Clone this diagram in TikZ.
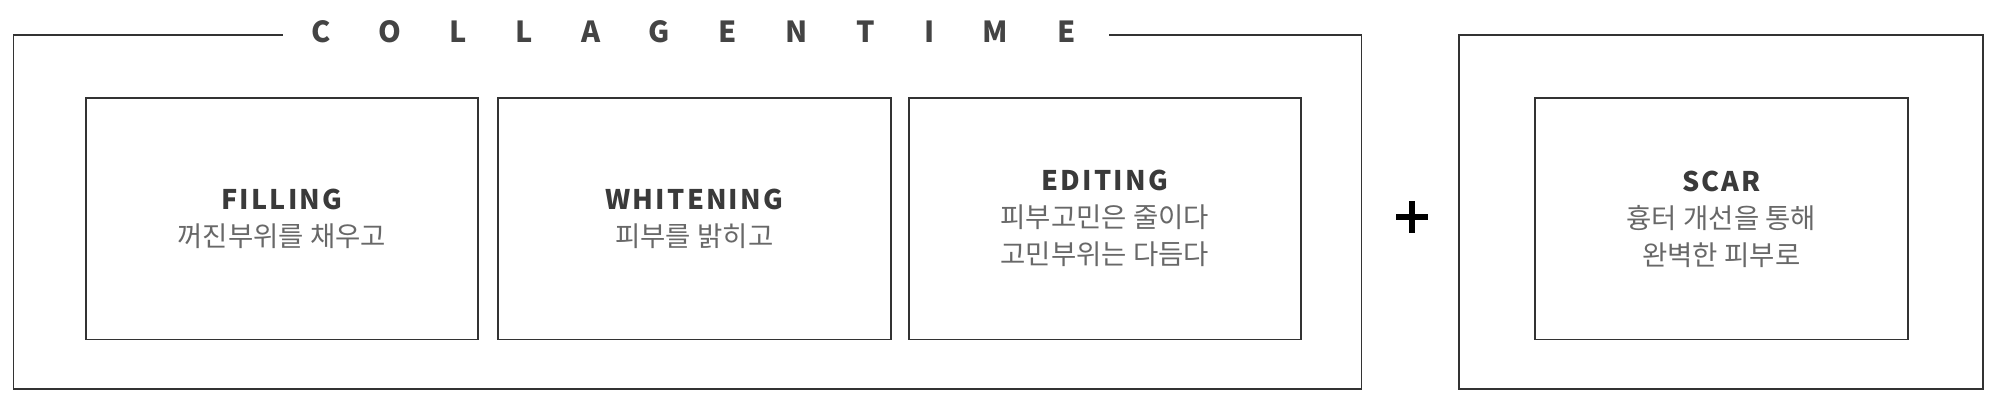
\documentclass[tikz,border=0pt]{standalone}
\usepackage{fontspec}
\setmainfont{Noto Sans CJK KR}
\definecolor{linec}{HTML}{333333}
\definecolor{titlec}{HTML}{3A3A3A}
\definecolor{bodyc}{HTML}{686868}
\definecolor{headc}{HTML}{444444}
\newcommand{\paneltitle}[1]{{\fontsize{27}{37}\selectfont\bfseries\addfontfeature{LetterSpace=8}\color{titlec}#1}}
\begin{document}
\begin{tikzpicture}[x=1pt,y=-1pt,
  frame/.style={draw=linec, line width=1.7pt},
  panel/.style={frame, anchor=north west, minimum height=241pt, inner sep=0pt,
    align=center, text=bodyc, font=\fontsize{27.5}{37}\selectfont},
  plusbar/.style={draw=black, line width=5.6pt}]
\useasboundingbox (0,0) rectangle (2000,406);
% outer frame with spaced title
\node[anchor=base west, inner sep=0pt, text=headc,
  font=\fontsize{29}{30}\selectfont\bfseries\addfontfeature{LetterSpace=168}] (head) at (311,42.5) {COLLAGENTIME};
\coordinate (hl) at (282.7,35);
\coordinate (hr) at (1108.5,35);
\draw[frame] (hl) -- (13.4,35) -- (13.4,389) -- (1361.5,389) -- (1361.5,35) -- (hr);
% right frame
\draw[frame] (1459,35) rectangle (1983,389);
% panels
\node[panel, minimum width=392pt] (fill) at (85,97.5) {\paneltitle{FILLING}\\꺼진부위를 채우고};
\node[panel, minimum width=393pt] (white) at (497,97.5) {\paneltitle{WHITENING}\\피부를 밝히고};
\node[panel, minimum width=392pt] (edit) at (908,97.5) {\paneltitle{EDITING}\\피부고민은 줄이다\\고민부위는 다듬다};
\node[panel, minimum width=373pt] (scar) at (1534,97.5) {\paneltitle{SCAR}\\흉터 개선을 통해\\완벽한 피부로};
% plus sign
\coordinate (pc) at (1412,217);
\draw[plusbar] ([xshift=-16pt]pc) -- ([xshift=16pt]pc);
\draw[plusbar] ([yshift=-16pt]pc) -- ([yshift=16pt]pc);
\end{tikzpicture}
\end{document}
